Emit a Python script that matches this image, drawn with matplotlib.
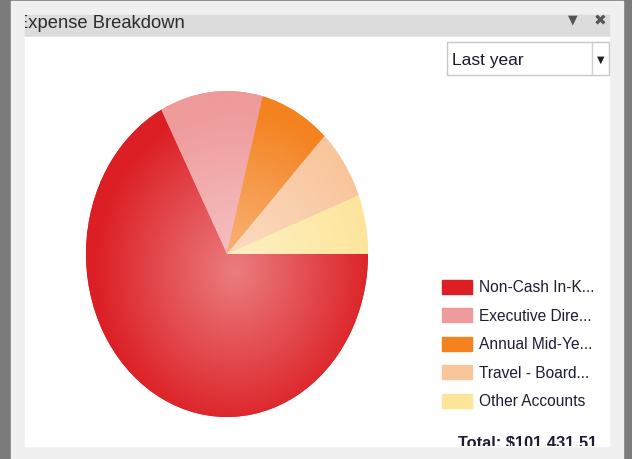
import numpy as np
import matplotlib
matplotlib.use("Agg")
import matplotlib.pyplot as plt
from matplotlib.patches import Rectangle
from matplotlib.colors import to_rgb

labels = ["Non-Cash In-K...", "Executive Dire...", "Annual Mid-Ye...",
          "Travel - Board...", "Other Accounts"]
values = [68261.51, 11950.00, 8170.00, 7100.00, 5950.00]
colors = ["#dc1f24", "#ef9a9b", "#f4821f", "#f9c59b", "#fde59a"]
title = "Expense Breakdown"
period = "Last year"
total_text = "Total: $101,431.51"

FONT = "Liberation Sans"
W, H = 632, 460

fig = plt.figure(figsize=(W / 100, H / 100), dpi=100)


def px_axes(x0, y0, x1, y1):
    # axes in pixel units, y going down
    a = fig.add_axes([x0 / W, 1 - y1 / H, (x1 - x0) / W, (y1 - y0) / H])
    a.set_xlim(x0, x1)
    a.set_ylim(y1, y0)
    a.axis('off')
    return a


bg = px_axes(0, 0, W, H)


def box(x0, y0, x1, y1, **kw):
    p = Rectangle((x0, y0), x1 - x0, y1 - y0, **kw)
    bg.add_patch(p)
    return p


# panel frame
box(0, 0, W, H, color='#7b7b7b', zorder=0)
box(11, 2, 623, H, color='#f0f0f0')
box(25, 16, 609, 37, color='#dcdcdc')
box(25, 38, 609, 447, color='white')

head = px_axes(25, 16, 609, 37)
head.text(16, 27.5, title, fontsize=13.2, color='#2b2b2b', family=FONT,
          fontweight='medium', va='baseline', ha='left', clip_on=True)
bg.text(573, 20, "\u25bc", fontsize=9, color='#555555', ha='center', va='center')
bg.text(600, 21, "\u2716", fontsize=11, color='#555555', ha='center', va='center')

# period dropdown
box(447, 43, 609, 76, facecolor='white', edgecolor='#c8c8c8', lw=1)
bg.plot([592, 592], [43, 76], color='#d0d0d0', lw=1)
bg.text(452, 60, period, fontsize=12.5, color='#1a1a30', family=FONT,
        va='center', ha='left')
bg.text(601, 60, "\u25bc", fontsize=7, color='#222222', ha='center', va='center')

# pie (stretched to an ellipse like the original)
ax = fig.add_axes([86 / W, 1 - 418 / H, 282 / W, 326 / H])
wedges, _ = ax.pie(values, colors=colors, startangle=0, counterclock=False,
                   radius=1, wedgeprops=dict(linewidth=0))

# radial highlight on every slice
n = 400
gx, gy = np.meshgrid(np.linspace(-1, 1, n), np.linspace(1, -1, n))
r = np.hypot(gx - 0.06, gy + 0.1)
w = 0.42 * np.clip(1 - r, 0, 1)
for wedge, c in zip(wedges, colors):
    rgb = np.array(to_rgb(c))
    img = rgb * (1 - w[..., None]) + w[..., None]
    im = ax.imshow(img, extent=(-1, 1, -1, 1), zorder=2,
                   interpolation='bilinear', aspect='auto')
    im.set_clip_path(wedge)
ax.set_aspect('auto')
ax.set_xlim(-1, 1)
ax.set_ylim(-1, 1)
ax.axis('off')

# legend
for i, (lab, c) in enumerate(zip(labels, colors)):
    y = 288 + i * 28.4
    box(442, y - 7, 472, y + 7, color=c)
    bg.text(479, y, lab, fontsize=11.2, color='#1d1d35', family=FONT,
            va='center', ha='left')

body = px_axes(25, 38, 609, 447)
body.text(458, 448, total_text, fontsize=11.8, fontweight='bold',
          color='#1d1d35', family=FONT, va='baseline', ha='left', clip_on=True)

fig.savefig('out.png', dpi=100)
